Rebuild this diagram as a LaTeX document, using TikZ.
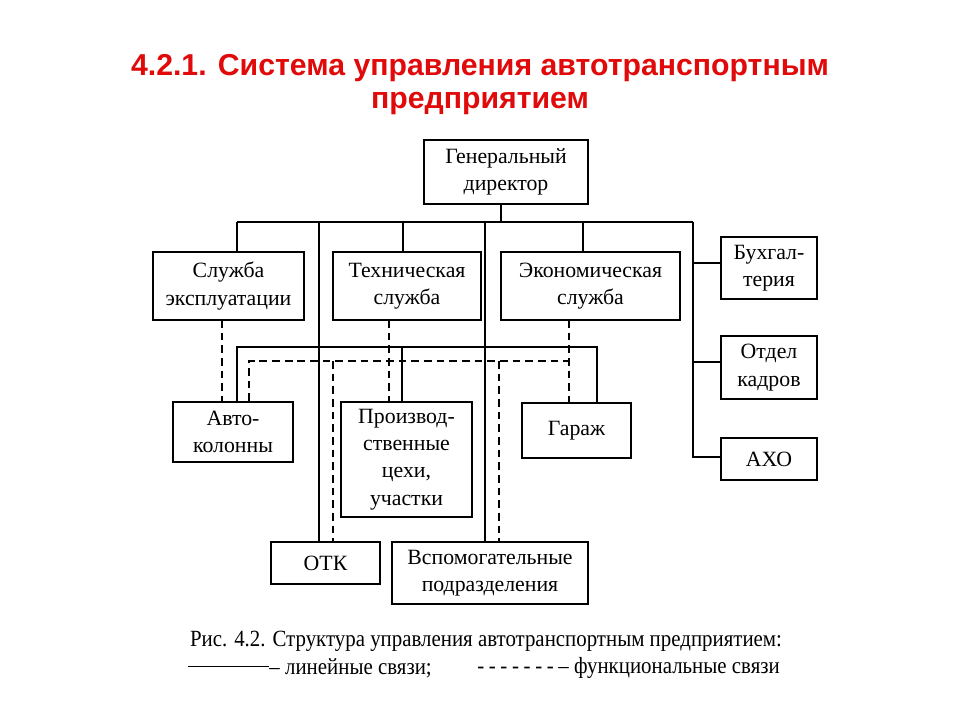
\documentclass[tikz,border=0pt]{standalone}
\usepackage{fontspec}
\setmainfont{Liberation Serif}
\newfontfamily\titlefont{Liberation Sans}
\newfontfamily\capfont[FakeStretch=0.9]{Liberation Serif}
\usepackage{xcolor}
\usepackage{tikz}
\usetikzlibrary{positioning}
\definecolor{titlered}{HTML}{E00A0A}
\newcommand\legdash{-\hspace{0.2em}}

\begin{document}
\begin{tikzpicture}[
    x=0.025cm, y=-0.025cm,
    unit/.style={
        rectangle, draw, line width=1.2pt,
        minimum width=#1, inner sep=2pt,
        align=center, font=\fontsize{15.5}{19.5}\selectfont
    },
    line/.style={line width=1.2pt},
    func/.style={line width=1.2pt, dash pattern=on 5.5pt off 3.5pt},
    capt/.style={font=\capfont\fontsize{16.5}{19}\selectfont}
]
\useasboundingbox (0,0) rectangle (960,720);

\node[font=\titlefont\bfseries\fontsize{21.5}{23.5}\selectfont, text=titlered, align=center] (title) at (480,85)
    {4.2.1. Система управления автотранспортным\\предприятием};

\node[unit=164*0.025cm, minimum height=64*0.025cm] (gd) at (506,172) {Генеральный\\директор};

\node[unit=151*0.025cm, minimum height=68*0.025cm] (sexp) at (228.5,286) {Служба\\эксплуатации};
\node[unit=148*0.025cm, minimum height=68*0.025cm] (tech) at (407,286) {Техническая\\служба};
\node[unit=179*0.025cm, minimum height=68*0.025cm] (econ) at (590.5,286) {Экономическая\\служба};

\node[unit=96*0.025cm, minimum height=62*0.025cm] (buh) at (769,268) {Бухгал-\\терия};
\node[unit=96*0.025cm, minimum height=63*0.025cm] (kadr) at (769,367.5) {Отдел\\кадров};
\node[unit=96*0.025cm, minimum height=42*0.025cm] (axo) at (769,459) {АХО};

\node[unit=120*0.025cm, minimum height=60*0.025cm] (avto) at (233,432) {Авто-\\колонны};
\node[unit=131*0.025cm, minimum height=115*0.025cm] (proizv) at (406.5,459.5) {Производ-\\ственные\\цехи,\\участки};
\node[unit=109*0.025cm, minimum height=55*0.025cm] (garazh) at (576.5,430.5) {Гараж};

\node[unit=109*0.025cm, minimum height=42*0.025cm] (otk) at (325.5,563) {ОТК};
\node[unit=196*0.025cm, minimum height=62*0.025cm] (vspom) at (490,573) {Вспомогательные\\подразделения};

\coordinate (bus1) at (237,222);
\coordinate (bus1e) at (693,222);
\coordinate (gdv) at (501,222);
\coordinate (techv) at (403,222);
\coordinate (econv) at (583,222);
\coordinate (otkv) at (319,222);
\coordinate (vspv) at (485,222);
\coordinate (buhc) at (693,263);
\coordinate (kadrc) at (693,362);
\coordinate (axoc) at (693,457);
\coordinate (bus2) at (237,347);
\coordinate (bus2e) at (597,347);
\coordinate (proizvv) at (402,347);
\coordinate (fbus) at (249,361);
\coordinate (fbuse) at (569,361);
\coordinate (fotk) at (333,361);
\coordinate (fvsp) at (499,361);
\coordinate (fs1) at (222,320);
\coordinate (fs2) at (389,320);
\coordinate (fs3) at (569,320);

\draw[line] (gdv |- gd.south) -- (gdv);
\draw[line] (bus1) -- (bus1e);
\draw[line] (bus1) -- (bus1 |- sexp.north);
\draw[line] (techv) -- (techv |- tech.north);
\draw[line] (econv) -- (econv |- econ.north);
\draw[line] (otkv) -- (otkv |- otk.north);
\draw[line] (vspv) -- (vspv |- vspom.north);
\draw[line] (bus1e) -- (axoc) -- (axoc -| axo.west);
\draw[line] (buhc) -- (buhc -| buh.west);
\draw[line] (kadrc) -- (kadrc -| kadr.west);

\draw[line] (bus2 |- avto.north) -- (bus2) -- (bus2e) -- (bus2e |- garazh.north);
\draw[line] (proizvv) -- (proizvv |- proizv.north);

\draw[func] (fs1) -- (fs1 |- avto.north);
\draw[func] (fs2) -- (fs2 |- proizv.north);
\draw[func] (fs3) -- (fs3 |- garazh.north);
\draw[func] (fbus |- avto.north) -- (fbus) -- (fbuse);
\draw[func] (fotk) -- (fotk |- otk.north);
\draw[func] (fvsp) -- (fvsp |- vspom.north);

\node[capt] (caption) at (486,641)
    {Рис. 4.2. Структура управления автотранспортным предприятием:};
\node[capt, anchor=west, inner sep=0pt] (legline) at (188,668)
    {\rule[0.3em]{3.5em}{0.9pt}– линейные связи;};
\node[capt, anchor=west, inner sep=0pt] (legdash) at (477,668)
    {\legdash\legdash\legdash\legdash\legdash\legdash\legdash– функциональные связи};
\end{tikzpicture}
\end{document}
